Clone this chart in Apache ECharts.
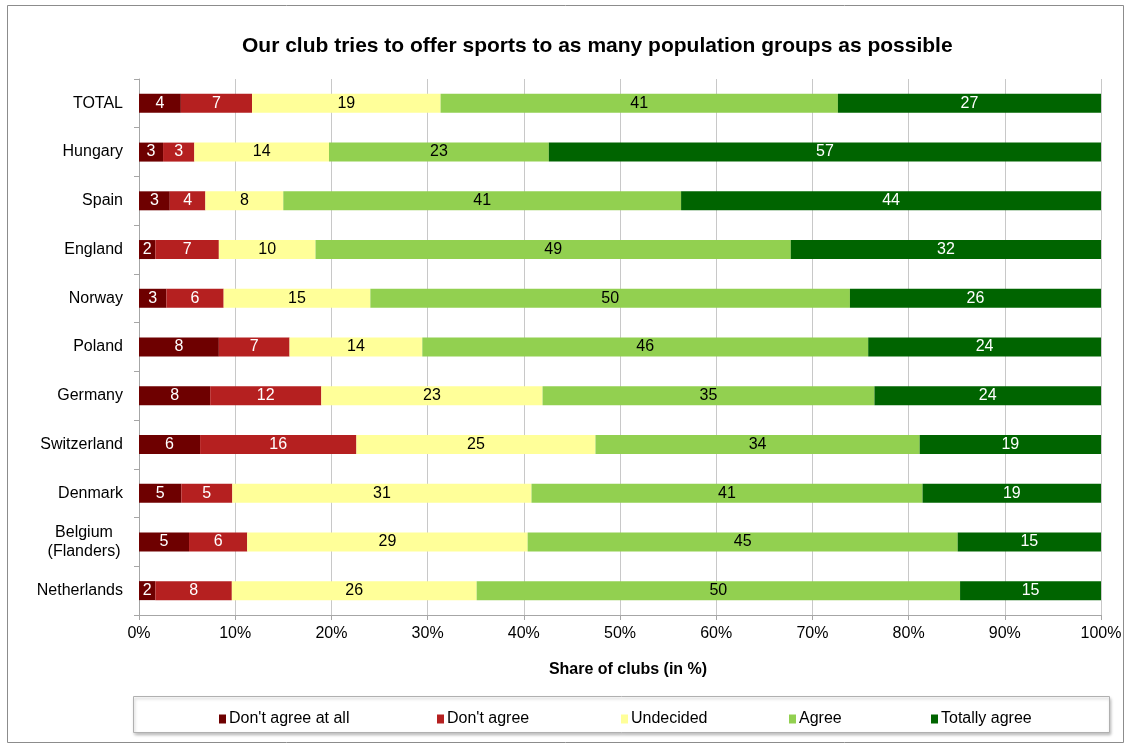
<!DOCTYPE html>
<html>
<head>
<meta charset="utf-8">
<script src="https://cdn.jsdelivr.net/npm/echarts@6/dist/echarts.min.js"></script>
<style>
  html, body { margin: 0; padding: 0; background: #fff; }
  #chart { width: 1131px; height: 749px; }
</style>
</head>
<body>
<div id="chart"></div>
<script>
var categories = ['TOTAL', 'Hungary', 'Spain', 'England', 'Norway', 'Poland',
    'Germany', 'Switzerland', 'Denmark', 'Belgium\n(Flanders)', 'Netherlands'];

var seriesNames = ["Don't agree at all", "Don't agree", 'Undecided', 'Agree', 'Totally agree'];
var seriesColors = ['#6e0000', '#b52020', '#ffff99', '#92d050', '#006400'];
var labelColors = ['#fff', '#fff', '#000', '#000', '#fff'];
var legendLeft = [214, 432, 616, 784, 926];

// bar lengths (share of clubs, %)
var notAtAll = [4.35, 2.5, 3.2, 1.7, 2.85, 8.3, 7.4, 6.35, 4.4, 5.2, 1.7];
var disagree = [7.4, 3.25, 3.7, 6.6, 5.95, 7.35, 11.55, 16.25, 5.3, 6.05, 7.95];
var undecided = [19.6, 14.0, 8.1, 10.05, 15.25, 13.8, 23.0, 24.85, 31.1, 29.15, 25.45];
var agree = [41.3, 22.85, 41.35, 49.4, 49.85, 46.35, 34.5, 33.7, 40.65, 44.7, 50.25];
var totally = [27.35, 57.4, 43.65, 32.25, 26.1, 24.2, 23.55, 18.85, 18.55, 14.9, 14.65];

// numbers printed inside the bars
var notAtAllLabels = [4, 3, 3, 2, 3, 8, 8, 6, 5, 5, 2];
var disagreeLabels = [7, 3, 4, 7, 6, 7, 12, 16, 5, 6, 8];
var undecidedLabels = [19, 14, 8, 10, 15, 14, 23, 25, 31, 29, 26];
var agreeLabels = [41, 23, 41, 49, 50, 46, 35, 34, 41, 45, 50];
var totallyLabels = [27, 57, 44, 32, 26, 24, 24, 19, 19, 15, 15];

var values = [notAtAll, disagree, undecided, agree, totally];
var labels = [notAtAllLabels, disagreeLabels, undecidedLabels, agreeLabels, totallyLabels];

var font = '"Liberation Sans", Arial, sans-serif';

var series = seriesNames.map(function (name, i) {
    return {
        name: name,
        type: 'bar',
        stack: 'total',
        barWidth: 19,
        itemStyle: { color: seriesColors[i] },
        label: {
            show: true,
            position: 'inside',
            color: labelColors[i],
            fontFamily: font,
            fontSize: 16,
            formatter: function (p) { return String(labels[i][p.dataIndex]); }
        },
        data: values[i]
    };
});

// one legend per item so the spacing follows the original
var legends = seriesNames.map(function (name, i) {
    return {
        data: [name],
        left: legendLeft[i],
        top: 706,
        icon: 'rect',
        itemWidth: 7,
        itemHeight: 9,
        textStyle: { fontFamily: font, fontSize: 16, color: '#000', padding: [0, 0, 0, -2] }
    };
});

var myChart = echarts.init(document.getElementById('chart'));
myChart.setOption({
    backgroundColor: '#fff',
    animation: false,
    textStyle: { fontFamily: font },
    title: {
        text: 'Our club tries to offer sports to as many population groups as possible',
        left: 237,
        top: 31,
        textStyle: { fontFamily: font, fontSize: 21, fontWeight: 'bold', color: '#000' }
    },
    legend: legends,
    grid: { left: 139, right: 30, top: 79, bottom: 134, containLabel: false },
    xAxis: {
        type: 'value',
        min: 0,
        max: 100,
        interval: 10,
        name: 'Share of clubs (in %)',
        nameLocation: 'middle',
        nameGap: 47,
        nameTextStyle: { fontFamily: font, fontSize: 16, fontWeight: 'bold', color: '#000', padding: [0, 0, 0, 16] },
        axisLine: { show: true, lineStyle: { color: '#a6a6a6' } },
        axisTick: { show: true, length: 5, lineStyle: { color: '#a6a6a6' } },
        splitLine: { show: true, lineStyle: { color: '#c8c8c8' } },
        axisLabel: { formatter: '{value}%', color: '#000', fontFamily: font, fontSize: 16, margin: 11 }
    },
    yAxis: {
        type: 'category',
        inverse: true,
        data: categories,
        axisLine: { show: true, lineStyle: { color: '#a6a6a6' } },
        axisTick: { show: true, length: 5, alignWithLabel: false, lineStyle: { color: '#a6a6a6' } },
        axisLabel: {
            color: '#000', fontFamily: font, fontSize: 16, margin: 16, lineHeight: 19,
            align: 'right',
            rich: {
                two: { fontFamily: font, fontSize: 16, lineHeight: 19, color: '#000', width: 78, align: 'center' }
            },
            formatter: function (v) {
                if (v.indexOf('\n') < 0) return v;
                return v.split('\n').map(function (s) { return '{two|' + s + '}'; }).join('\n');
            }
        }
    },
    graphic: [
        {
            type: 'rect',
            shape: { x: 7.5, y: 5.5, width: 1116, height: 737 },
            style: { fill: 'none', stroke: '#8c8c8c', lineWidth: 1 },
            silent: true
        },
        {
            type: 'rect',
            z: -1,
            shape: { x: 133.5, y: 696.5, width: 976, height: 36 },
            style: { fill: '#fff', stroke: '#b0b0b0', lineWidth: 1, shadowBlur: 3, shadowOffsetX: 1, shadowOffsetY: 2, shadowColor: 'rgba(0,0,0,0.25)' },
            silent: true
        }
    ],
    series: series
});
</script>
</body>
</html>
